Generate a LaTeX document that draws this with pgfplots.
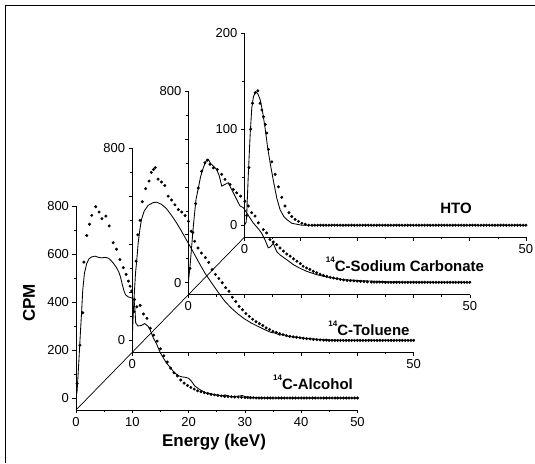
\documentclass[border=0pt]{standalone}
\usepackage{pgfplots}
\pgfplotsset{compat=1.18}
\usepackage{fontspec}
\setmainfont{Liberation Sans}
\newcommand\isosup[1]{\raisebox{0.62em}{\fontsize{8}{8}\selectfont #1}}
\begin{document}
\begin{tikzpicture}
\useasboundingbox (0pt,0pt) rectangle (535pt,463pt);
\pgfplotsset{
  spec/.style={
    scale only axis, width=281.5pt, height=204pt, anchor=south west,
    axis x line*=bottom, axis y line*=left,
    xmin=0, xmax=50, xtick={0,10,20,30,40,50},
    minor x tick num=1, minor y tick num=1,
    tick align=outside, major tick length=3.5pt, minor tick length=2pt,
    tick style={black, line width=0.6pt},
    axis line style={black, line width=0.8pt},
    /pgf/number format/assume math mode=true,
    ticklabel style={font=\fontsize{13}{14}\selectfont},
  },
  specline/.style={black, line width=0.85pt, mark=none},
  specdots/.style={black, only marks, mark=*, mark size=1.3pt},
}
% 14C-Alcohol (front)
\begin{axis}[spec, at={(76pt,53pt)}, ymin=-50, ymax=800, ytick={0,200,400,600,800}]
\addplot[specline] coordinates {(0,0)(0.2,30)(0.5,150)(0.8,280)(1.0,360)(1.2,450)(1.5,520)(1.9,560)(2.3,580)(2.8,588)(3.4,591)(4.0,586)(4.6,584)(5.2,586)(5.7,583)(6.1,576)(6.6,563)(7.2,543)(7.6,525)(7.9,505)(8.2,475)(8.5,448)(8.8,430)(9.3,421)(9.9,417)(10.3,410)(10.5,360)(10.6,313)(11.0,300)(11.6,302)(12.2,310)(12.8,299)(13.2,282)(13.7,252)(14.3,226)(14.9,192)(15.5,168)(16.0,148)(16.7,128)(17.5,105)(18.2,93)(18.8,88)(19.5,86)(20.0,82)(20.5,70)(21.1,50)(22.0,35)(23.0,22)(24.0,17)(25.0,13)(26.0,9)(26.5,13)(27.0,8)(28.0,6)(29.0,8)(29.5,11)(30.0,6)(31,3)(33,1)(35,0)(50,0)};
\addplot[specdots] coordinates {(0.2,60)(0.7,220)(1.2,355)(1.4,566)(1.9,677)(2.4,724)(2.8,761)(3.5,797)(4.1,775)(4.6,747)(5.3,758)(5.9,717)(6.6,647)(7.2,620)(7.8,577)(8.4,543)(8.9,515)(9.3,487)(9.6,466)(9.9,446)(10.4,410)(10.8,380)(11.4,386)(12.0,350)(12.6,332)(13.2,291)(13.8,262)(14.4,237)(15.0,205)(15.6,176)(16.2,150)(16.8,125)(17.4,105)(18.0,92)(18.6,75)(19.2,62)(19.8,52)(20.4,44)(21.0,37)(21.6,30)(22.2,26)(22.8,22)(23.4,19)(24.0,15)(24.6,13)(25.2,11)(25.8,9)(26.4,7)(27.0,6)(27.6,5)(28.2,4)(28.8,4)(29.4,3)(30.0,2)(30.5,2)(31.0,1)(31.5,1)(32.0,0)(32.5,0)(33,0)(33.5,0)(34,0)(34.5,0)(35,0)(35.5,0)(36,0)(36.5,0)(37,0)(37.5,0)(38,0)(38.5,0)(39,0)(39.5,0)(40,0)(40.5,0)(41,0)(41.5,0)(42,0)(42.5,0)(43,0)(43.5,0)(44,0)(44.5,0)(45,0)(45.5,0)(46,0)(46.5,0)(47,0)(47.5,0)(48,0)(48.5,0)(49,0)(49.5,0)(50,0)};
\end{axis}
% 14C-Toluene
\begin{axis}[spec, at={(132.15pt,110.6pt)}, ymin=-50, ymax=800, ytick={0,200,400,600,800}, yticklabels={0,,,,800}, xticklabels={0,,,,,50}]
\addplot[specline] coordinates {(0,0)(0.18,100)(0.36,184)(0.6,281)(0.83,337)(1.07,406)(1.37,462)(1.66,504)(2.14,539)(2.85,563)(3.73,574)(4.33,576)(5.22,567)(6.1,549)(6.99,521)(7.88,490)(8.77,455)(9.66,418)(10.55,381)(11.73,330)(12.91,281)(14.1,240)(15.3,200)(16.46,163)(17.6,135)(18.8,110)(20.0,89)(21.2,72)(22.4,58)(23.6,44)(24.7,33)(25.5,30)(26.2,22)(26.8,25)(27.4,19)(28.3,15)(29.2,13)(30,11)(31,8)(32.2,6)(34,3)(36,1)(38,0)(50,0)};
\addplot[specdots] coordinates {(0.3,120)(0.7,330)(1.0,440)(1.4,500)(1.8,578)(2.4,632)(3.0,664)(3.4,700)(3.8,712)(4.1,720)(4.6,672)(5.2,660)(5.8,645)(6.4,601)(7.0,585)(7.6,565)(8.2,545)(8.8,535)(9.4,520)(10.0,496)(10.5,455)(11.1,413)(11.7,385)(12.3,364)(13.0,345)(13.6,325)(14.2,295)(14.8,275)(15.4,258)(16.0,240)(16.6,220)(17.2,205)(17.8,180)(18.4,162)(19.0,142)(19.6,128)(20.2,112)(20.8,100)(21.4,88)(22.0,78)(22.6,70)(23.2,62)(23.8,52)(24.4,45)(25.0,38)(25.6,33)(26.2,28)(26.8,24)(27.4,20)(28.0,17)(28.6,15)(29.2,13)(29.8,11)(30.4,9)(31.0,7)(31.6,6)(32.2,4)(32.8,3)(33.4,2)(34.0,1)(34.5,1)(35,0)(35.5,0)(36,0)(36.5,0)(37,0)(37.5,0)(38,0)(38.5,0)(39,0)(39.5,0)(40,0)(40.5,0)(41,0)(41.5,0)(42,0)(42.5,0)(43,0)(43.5,0)(44,0)(44.5,0)(45,0)(45.5,0)(46,0)(46.5,0)(47,0)(47.5,0)(48,0)(48.5,0)(49,0)(49.5,0)(50,0)};
\end{axis}
% 14C-Sodium Carbonate
\begin{axis}[spec, at={(188.3pt,168.2pt)}, ymin=-50, ymax=800, ytick={0,200,400,600,800}, yticklabels={0,,,,800}, xticklabels={0,,,,,50}]
\addplot[specline] coordinates {(0,0)(0.18,41)(0.3,68)(0.6,152)(0.89,235)(1.36,346)(1.78,395)(2.19,443)(2.67,480)(3.14,507)(3.56,514)(3.97,497)(4.45,486)(5.04,472)(5.51,445)(5.93,403)(6.52,410)(7.11,417)(7.53,396)(8.0,375)(8.59,347)(9.19,320)(9.77,313)(10.36,292)(10.96,270)(11.55,249)(12.44,225)(13.0,208)(13.6,180)(14.2,146)(14.6,150)(15.1,165)(15.7,130)(16.3,116)(17.5,96)(18.7,75)(19.8,61)(21.0,48)(22.8,34)(24.6,24)(27.6,13)(30.6,9)(33.5,6)(36,4)(40,3)(45,2)(50,2)};
\addplot[specdots] coordinates {(0.3,60)(0.8,210)(1.3,330)(1.78,395)(2.37,465)(2.96,500)(3.38,511)(3.85,494)(4.45,479)(5.16,472)(5.93,452)(6.52,431)(7.41,410)(8.0,389)(8.59,375)(9.3,361)(10.07,340)(10.66,320)(11.25,292)(11.85,278)(12.44,250)(13.33,222)(13.92,208)(14.5,180)(15.1,170)(15.7,159)(16.3,145)(16.9,132)(17.5,120)(18.1,111)(18.7,100)(19.3,90)(19.9,80)(20.4,69)(21.0,62)(21.6,56)(22.2,48)(22.8,42)(23.4,36)(24.0,31)(24.6,27)(25.2,23)(25.8,20)(26.4,17)(27.0,14)(27.6,12)(28.2,10)(28.8,9)(29.4,8)(30,7)(30.6,6)(31.2,5)(31.8,4)(32.5,3)(33,3)(33.5,3)(34,3)(34.5,3)(35,2)(35.5,2)(36,2)(36.5,2)(37,2)(37.5,2)(38,2)(38.5,2)(39,2)(39.5,2)(40,2)(40.5,2)(41,2)(41.5,2)(42,2)(42.5,2)(43,2)(43.5,2)(44,2)(44.5,2)(45,2)(45.5,2)(46,2)(46.5,2)(47,2)(47.5,2)(48,2)(48.5,2)(49,2)(49.5,2)(50,2)};
\end{axis}
% HTO
\begin{axis}[spec, at={(244.45pt,225.8pt)}, ymin=-12.5, ymax=200, ytick={0,100,200}, xticklabels={0,,,,,50}]
\addplot[specline] coordinates {(0,0)(0.3,3)(0.42,14)(0.71,56)(1.01,94)(1.30,122)(1.60,134)(2.01,139)(2.37,137)(2.78,131)(3.2,119)(3.67,101)(4.14,80)(4.62,63)(5.15,46)(5.75,28)(6.34,16)(7.0,9)(7.5,6)(8.4,2)(9.3,1)(10.2,0)(50,0)};
\addplot[specdots] coordinates {(0.4,10)(0.8,60)(1.1,100)(1.42,127)(1.9,138)(2.37,140)(2.78,127)(3.1,120)(3.38,113)(3.7,105)(3.97,96)(4.27,79)(4.86,66)(5.45,53)(6.04,40)(6.63,29)(7.2,20)(7.9,13)(8.4,9)(9.0,6)(9.6,4)(10.2,2)(10.8,1)(11.4,0)(12,0)(12.5,0)(13,0)(13.5,0)(14,0)(14.5,0)(15,0)(15.5,0)(16,0)(16.5,0)(17,0)(17.5,0)(18,0)(18.5,0)(19,0)(19.5,0)(20,0)(20.5,0)(21,0)(21.5,0)(22,0)(22.5,0)(23,0)(23.5,0)(24,0)(24.5,0)(25,0)(25.5,0)(26,0)(26.5,0)(27,0)(27.5,0)(28,0)(28.5,0)(29,0)(29.5,0)(30,0)(30.5,0)(31,0)(31.5,0)(32,0)(32.5,0)(33,0)(33.5,0)(34,0)(34.5,0)(35,0)(35.5,0)(36,0)(36.5,0)(37,0)(37.5,0)(38,0)(38.5,0)(39,0)(39.5,0)(40,0)(40.5,0)(41,0)(41.5,0)(42,0)(42.5,0)(43,0)(43.5,0)(44,0)(44.5,0)(45,0)(45.5,0)(46,0)(46.5,0)(47,0)(47.5,0)(48,0)(48.5,0)(49,0)(49.5,0)(50,0)};
\end{axis}
\draw[line width=0.7pt] (76pt,53pt) -- (244.45pt,225.8pt);
\draw[line width=1pt] (5pt,0pt) -- (5pt,457pt) -- (535pt,457pt);
\node[rotate=90, font=\bfseries\fontsize{17}{17}\selectfont] at (29pt,160pt) {CPM};
\node[anchor=base, font=\bfseries\fontsize{17}{17}\selectfont] at (214pt,16.3pt) {Energy (keV)};
\node[anchor=base, font=\bfseries\fontsize{15}{15}\selectfont] at (456pt,249.7pt) {HTO};
\node[anchor=base, font=\bfseries\fontsize{15}{15}\selectfont] at (405pt,191pt) {\isosup{14}C-Sodium Carbonate};
\node[anchor=base, font=\bfseries\fontsize{15}{15}\selectfont] at (369pt,127pt) {\isosup{14}C-Toluene};
\node[anchor=base, font=\bfseries\fontsize{15}{15}\selectfont] at (313pt,73pt) {\isosup{14}C-Alcohol};
\end{tikzpicture}
\end{document}
